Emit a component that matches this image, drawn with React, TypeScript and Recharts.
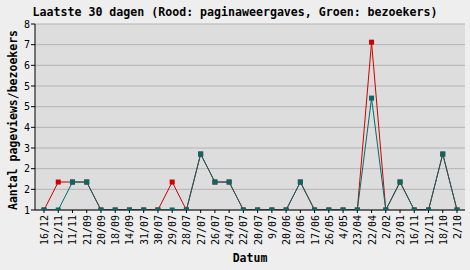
import React from "react";
import { LineChart, Line, XAxis, YAxis, CartesianGrid } from "recharts";

const categories = [
  "16/12", "12/11", "11/11", "21/09", "20/09", "18/09", "14/09", "31/07", "30/07", "29/07",
  "28/07", "27/07", "26/07", "24/07", "22/07", "20/07", "9/07", "20/06", "18/06", "17/06",
  "26/05", "4/05", "23/04", "22/04", "2/02", "23/01", "16/11", "12/11", "18/10", "2/10",
];
const pageviews = [1, 2, 2, 2, 1, 1, 1, 1, 1, 2, 1, 3, 2, 2, 1, 1, 1, 1, 2, 1, 1, 1, 1, 7, 1, 2, 1, 1, 3, 1];
const visitors = [1, 1, 2, 2, 1, 1, 1, 1, 1, 1, 1, 3, 2, 2, 1, 1, 1, 1, 2, 1, 1, 1, 1, 5, 1, 2, 1, 1, 3, 1];
const yTickLabels = ["1", "2", "2", "3", "4", "5", "5", "6", "7", "8"];
const yMin = 1;
const yMax = 7.65;

const titleText = "Laatste 30 dagen (Rood: paginaweergaves, Groen: bezoekers)";
const yTitle = "Aantal pageviews/bezoekers";
const xTitle = "Datum";

const RED = "#cc0000";
const GREEN = "#006b6b";
const FONT = "'DejaVu Sans Mono', monospace";

const data = categories.map((c, i) => ({ label: c, idx: i, pv: pageviews[i], vis: visitors[i] }));
const yTicks = yTickLabels.map((_, i) => yMin + (i * (yMax - yMin)) / (yTickLabels.length - 1));

const squareDot = (color: string) => (props: any) => {
  const { cx, cy, index } = props;
  if (cx == null || cy == null) return <g key={`d-${index}`} />;
  return <rect key={`d-${color}-${index}`} x={cx - 2.5} y={cy - 2.5} width={5} height={5} fill={color} />;
};

const XTick = (props: any) => {
  const { x, y, payload } = props;
  return (
    <text
      transform={`translate(${x + 4},${y}) rotate(-90)`}
      textAnchor="end"
      fontFamily={FONT}
      fontSize={10}
      fill="#000"
    >
      {payload.value}
    </text>
  );
};

export default function App() {
  return (
    <div style={{ position: "absolute", left: 0, top: 0, width: 470, height: 270, background: "#eeeeee" }}>
      <LineChart width={470} height={270} data={data} margin={{ top: 24, right: 5, left: 0, bottom: 0 }}>
        <CartesianGrid vertical={false} stroke="#b4b4b4" fill="#dddddd" fillOpacity={1} />
        <XAxis
          dataKey="idx"
          type="category"
          height={60}
          padding={{ left: 9, right: 8 }}
          interval={0}
          tickSize={3}
          tickMargin={2}
          tickLine={{ stroke: "#000" }}
          axisLine={{ stroke: "#000" }}
          tick={(p: any) => <XTick {...p} payload={{ value: categories[p.payload.value] }} />}
        />
        <XAxis
          xAxisId="top"
          dataKey="idx"
          orientation="top"
          height={0}
          tick={false}
          tickLine={false}
          axisLine={{ stroke: "#404040" }}
        />
        <YAxis
          type="number"
          domain={[yMin, yMax]}
          ticks={yTicks}
          interval={0}
          width={35}
          tickSize={4}
          tickMargin={1}
          tickLine={{ stroke: "#000" }}
          axisLine={{ stroke: "#000" }}
          tick={{ fontFamily: FONT, fontSize: 10, fill: "#000" }}
          tickFormatter={(_: any, i: number) => yTickLabels[i]}
          allowDataOverflow
        />
        <YAxis
          yAxisId="right"
          orientation="right"
          width={0}
          tick={false}
          tickLine={false}
          axisLine={{ stroke: "#404040" }}
        />
        <Line
          dataKey="pv"
          stroke={RED}
          strokeWidth={1}
          isAnimationActive={false}
          dot={squareDot(RED)}
          activeDot={false}
          type="linear"
        />
        <Line
          dataKey="vis"
          stroke={GREEN}
          strokeWidth={1}
          isAnimationActive={false}
          dot={squareDot(GREEN)}
          activeDot={false}
          type="linear"
        />
      </LineChart>
      <svg
        width={470}
        height={270}
        style={{ position: "absolute", left: 0, top: 0, pointerEvents: "none" }}
      >
        <text x={235} y={16} textAnchor="middle" fontFamily={FONT} fontWeight="bold" fontSize={11.6} fill="#000">
          {titleText}
        </text>
        <text
          transform="translate(17,120) rotate(-90)"
          textAnchor="middle"
          fontFamily={FONT}
          fontWeight="bold"
          fontSize={11.5}
          fill="#000"
        >
          {yTitle}
        </text>
        <text x={250} y={262} textAnchor="middle" fontFamily={FONT} fontWeight="bold" fontSize={11.5} fill="#000">
          {xTitle}
        </text>
      </svg>
    </div>
  );
}
